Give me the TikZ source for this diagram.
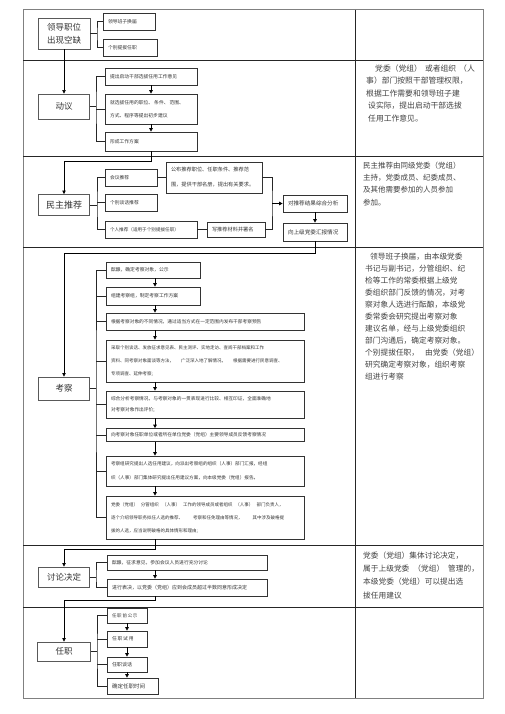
\documentclass[tikz,border=0pt]{standalone}
\usepackage{fontspec}
\setmainfont{Noto Sans CJK SC}
\usetikzlibrary{arrows.meta}
\newcommand\myfs[2]{\fontsize{#1}{#2}\selectfont}
\tikzset{
  bigbox/.style={draw=black!65, line width=0.9pt, font=\myfs{8.5}{13}, text=black!80, inner sep=0pt, align=center},
  sbox/.style={draw=black!80, line width=0.7pt, inner xsep=5pt, inner ysep=0pt, align=left, text=black!80, font=\myfs{4.8}{13}},
  arr/.style={draw=black, line width=0.7pt, -{Triangle[length=3.5pt,width=3.5pt]}},
  con/.style={draw=black!85, line width=0.7pt},
  note/.style={anchor=north west, inner sep=0pt, align=left, text=black!75},
  grid/.style={draw=black!85, line width=0.8pt},
  frame/.style={draw=black!50, line width=1pt}
}
\begin{document}
\begin{tikzpicture}[x=1pt,y=-1pt]
\useasboundingbox (0,0) rectangle (505,714);
% table
\draw[frame] (23,10) rectangle (483,698);
\draw[grid] (355,10) -- (355,698);
\foreach \yy in {60,156,247,545,607} \draw[grid] (23,\yy) -- (483,\yy);

% ---------- row 1
\node[bigbox, minimum width=52pt, minimum height=31pt] (lead) at (64,33.5) {领导职位\\出现空缺};
\node[sbox, text width=42pt, minimum height=17pt] (hj) at (129,21.5) {领导班子换届};
\node[sbox, text width=44pt, minimum height=17pt] (gb) at (130,47.5) {个别提拔任职};
\coordinate (b1) at (97,33.5);
\draw[con] (lead.east) -- (b1);
\draw[con] (hj.west) -| (b1) |- (gb.west);

% ---------- row 2
\node[bigbox, minimum width=51pt, minimum height=25pt] (dy) at (64,106.5) {动议};
\node[sbox, text width=82pt, minimum height=17pt] (d1) at (151,76.5) {提出启动干部选拔任用工作意见};
\node[sbox, text width=82pt, minimum height=30pt] (d2) at (151,109) {就选拔任用的职位、\hspace{1pt}条件、\hspace{1pt}范围、\\方式、程序等提出初步建议};
\node[sbox, text width=82pt, minimum height=19pt] (d3) at (151,141.5) {形成工作方案};
\coordinate (b2) at (96,106.5);
\draw[con] (dy.east) -- (b2);
\draw[con] (d1.west) -| (b2) |- (d3.west);
\draw[con] (d2.west) -- (d2.west -| b2);
\draw[arr] (lead.south) -- (dy.north);
\draw[arr] (d1.south) -- (d2.north);
\draw[arr] (d2.south) -- (d3.north);
\node[note, font=\myfs{7.8}{12.5}] (n1) at (366,64.5) {\hspace*{9pt}党委（党组）\hspace{3pt}或者组织\hspace{3pt}（人\\事）部门按照干部管理权限，\\根据工作需要和领导班子建\\\hspace*{2pt}设实际，提出启动干部选拔\\\hspace*{2pt}任用工作意见。};

% ---------- row 3
\node[bigbox, font=\myfs{9}{13}, minimum width=51pt, minimum height=21pt] (mz) at (64,205) {民主推荐};
\node[sbox, text width=42pt, minimum height=17pt] (hy) at (131,177.5) {会议推荐};
\node[sbox, font=\myfs{5.2}{15}, text width=86pt, minimum height=31pt] (gbt) at (214,177.5) {公布推荐职位、任职条件、推荐范\\围，提供干部名册，提出有关要求。};
\node[sbox, text width=42pt, minimum height=17pt] (gt) at (131,202.5) {个别谈话推荐};
\node[sbox, font=\myfs{4.6}{13}, text width=82pt, minimum height=17pt] (gr) at (151,229.5) {个人推荐（适用于个别提拔任职）};
\node[sbox, font=\myfs{5.2}{13}, text width=48pt, minimum height=15pt] (xt) at (236,229.5) {写推荐材料并署名};
\node[sbox, font=\myfs{5.6}{13}, text width=54pt, minimum height=17pt] (zh) at (315,203.5) {对推荐结果综合分析};
\node[sbox, font=\myfs{5.6}{13}, text width=54pt, minimum height=18pt] (hb) at (315,232) {向上级党委汇报情况};
\coordinate (b3) at (97,205);
\draw[con] (mz.east) -- (b3);
\draw[con] (hy.west) -| (b3) |- (gr.west);
\draw[con] (gt.west) -- (gt.west -| b3);
\draw[con] (hy.east) -- (gbt.west);
\draw[con] (gr.east) -- (xt.west);
\coordinate (m2) at (272,203.5);
\draw[con] (gbt.east) -| (m2) |- (xt.east);
\draw[arr] (m2) -- (zh.west);
\draw[arr] (zh.south) -- (hb.north);
\draw[arr] (d3.south) -- ++(0,10.5) -| (mz.north);
\node[note, font=\myfs{7.5}{12.3}] (n2) at (363,161.6) {民主推荐由同级党委（党组）\\主持，党委成员、纪委成员、\\及其他需要参加的人员参加\\参加。};

% ---------- row 4
\node[bigbox, minimum width=51pt, minimum height=23pt] (kc) at (64,388.5) {考察};
\node[sbox, text width=84pt, minimum height=16pt] (k1) at (153,270) {酝酿，确定考察对象，公示};
\node[sbox, text width=84pt, minimum height=18pt] (k2) at (153,296) {组建考察组，制定考察工作方案};
\node[sbox, font=\myfs{4.7}{13}, text width=188pt, minimum height=17pt] (k3) at (205,321.5) {根据考察对象的不同情况，通过适当方式在一定范围内发布干部考察预告};
\node[sbox, font=\myfs{4.5}{13}, text width=188pt, minimum height=42pt, line width=0.9pt] (k4) at (205,361) {采取个别谈话、发放征求意见表、民主测评、实地走访、查阅干部档案和工作\\资料、同考察对象面谈等方法，\hspace{7pt}广泛深入地了解情况，\hspace{7pt}根据需要进行民意调查、\\专项调查、延伸考察;};
\node[sbox, font=\myfs{4.7}{11}, text width=188pt, minimum height=27pt] (k5) at (205,404.5) {综合分析考察情况，与考察对象的一贯表现进行比较、相互印证，全面准确地\\对考察对象作出评价;};
\node[sbox, font=\myfs{4.7}{13}, text width=188pt, minimum height=13pt] (k6) at (205,435) {向考察对象任职单位或者所在单位党委（党组）主要领导成员反馈考察情况};
\node[sbox, font=\myfs{4.6}{14}, text width=188pt, minimum height=30pt] (k7) at (205,471) {考察组研究提出人选任用建议，向派出考察组的组织（人事）部门汇报，经组\\织（人事）部门集体研究提出任用建议方案，向本级党委（党组）报告。};
\node[sbox, font=\myfs{4.5}{13}, text width=188pt, minimum height=43pt] (k8) at (205,517.5) {党委（党组）\hspace{3pt}分管组织\hspace{3pt}（人事）\hspace{3pt}工作的领导成员或者组织\hspace{3pt}（人事）\hspace{3pt}部门负责人，\\逐个介绍领导职务拟任人选的推荐、\hspace{10pt}考察和任免理由等情况，\hspace{10pt}其中涉及破格提\\拔的人选，应当说明破格的具体情形和理由;};
\coordinate (b4) at (96,388.5);
\coordinate (kx) at (155,0);
\draw[con] (kc.east) -- (b4);
\draw[con] (k1.west) -| (b4) |- (k8.west);
\foreach \nn in {k2,k3,k4,k5,k6,k7} \draw[con] (\nn.west) -- (\nn.west -| b4);
\draw[arr] (k1.south -| kx) -- (k2.north -| kx);
\draw[arr] (k2.south -| kx) -- (k3.north -| kx);
\draw[arr] (k3.south -| kx) -- (k4.north -| kx);
\draw[arr] (k4.south -| kx) -- (k5.north -| kx);
\draw[arr] (k5.south -| kx) -- (k6.north -| kx);
\draw[arr] (k6.south -| kx) -- (k7.north -| kx);
\draw[arr] (k7.south -| kx) -- (k8.north -| kx);
\draw[arr] (hb.south) -- ++(0,12) -| (kc.north);
\node[note, font=\myfs{7.7}{12}] (n3) at (365,252.5) {\hspace*{5pt}领导班子换届，由本级党委\\书记与副书记，分管组织、纪\\检等工作的常委根据上级党\\委组织部门反馈的情况，对考\\察对象人选进行酝酿，本级党\\委常委会研究提出考察对象\\建议名单，经与上级党委组织\\部门沟通后，确定考察对象。\\个别提拔任职，\hspace{6pt}由党委（党组）\\研究确定考察对象，组织考察\\组进行考察};

% ---------- row 5
\node[bigbox, minimum width=51pt, minimum height=20pt] (td) at (64,577) {讨论决定};
\node[sbox, text width=150pt, minimum height=15pt] (t1) at (187,562.5) {酝酿，征求意见，参加会议人员进行充分讨论};
\node[sbox, font=\myfs{5}{13}, text width=150pt, minimum height=17pt] (t2) at (187,587.5) {进行表决，以党委（党组）应到会成员超过半数同意形成决定};
\coordinate (b5) at (96,577);
\draw[con] (td.east) -- (b5);
\draw[con] (t1.west) -| (b5) |- (t2.west);
\draw[arr] (t1.south -| kx) -- (t2.north -| kx);
\draw[arr] (k8.south -| kx) -- ++(0,10) -| (td.north);
\node[note, font=\myfs{7.7}{13.3}] (n4) at (363,551.5) {党委（党组）集体讨论决定，\\属于上级党委\hspace{4pt}（党组）\hspace{4pt}管理的，\\本级党委（党组）可以提出选\\拔任用建议};

% ---------- row 6
\node[bigbox, minimum width=53pt, minimum height=19pt] (rz) at (64,651.5) {任职};
\node[sbox, font=\myfs{4.5}{13}, text width=30pt, minimum height=15pt] (r1) at (127,615.5) {任\,职\,前\,公\,示};
\node[sbox, font=\myfs{4.8}{13}, text width=30pt, minimum height=16pt] (r2) at (127,639) {任\,职\,试\,用};
\node[sbox, font=\myfs{5}{13}, text width=30pt, minimum height=15pt] (r3) at (127,664.5) {任职谈话};
\node[sbox, font=\myfs{5.5}{13}, text width=41pt, minimum height=16pt] (r4) at (132.5,686) {确定任职时间};
\coordinate (b6) at (97,651.5);
\draw[con] (rz.east) -- (b6);
\draw[con] (r1.west) -| (b6) |- (r4.west);
\draw[con] (r2.west) -- (r2.west -| b6);
\draw[con] (r3.west) -- (r3.west -| b6);
\draw[arr] (r1.south) -- (r2.north);
\draw[arr] (r2.south) -- (r3.north);
\draw[arr] (r3.south) -- (r3.south |- r4.north);
\draw[arr] (t2.south -| kx) -- ++(0,4) -| (rz.north);
\end{tikzpicture}
\end{document}
